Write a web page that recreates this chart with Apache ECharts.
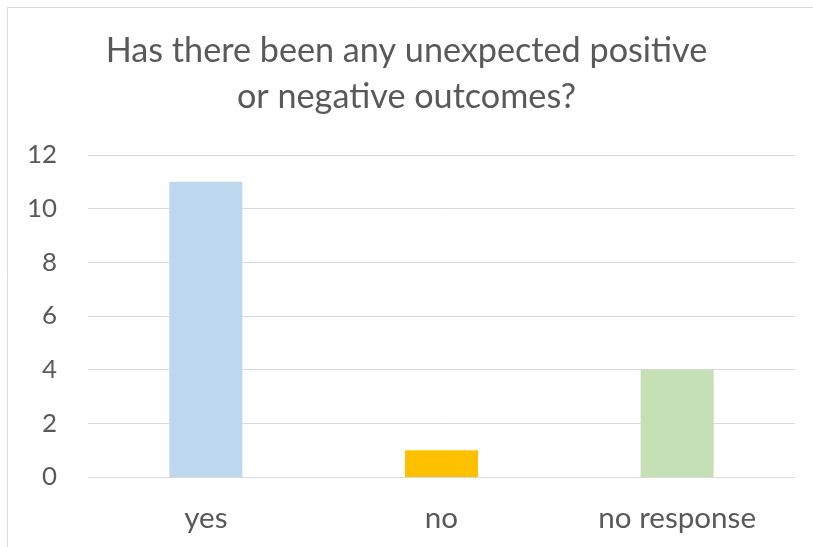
<!DOCTYPE html>
<html><head><meta charset="utf-8">
<script src="https://cdn.jsdelivr.net/npm/echarts@6/dist/echarts.min.js"></script>
<style>html,body{margin:0;padding:0;background:#fff}#c{width:813px;height:547px}</style>
</head><body><div id="c"></div>
<script>
const categories = ['yes', 'no', 'no response'];
const values = [11, 1, 4];
const barColors = ['#BDD7EE', '#FFC000', '#C5E0B4'];
const yTicks = { min: 0, max: 12, interval: 2 };
const titleLines = ['Has there been any unexpected positive', 'or negative outcomes?'];

// size fonts so text widths match the reference
const ctx = document.createElement('canvas').getContext('2d');
function sizeFor(text, target) {
  ctx.font = '100px Lato';
  return Math.round(100 * target / ctx.measureText(text).width * 10) / 10;
}
const titleSize = sizeFor(titleLines[0], 602);
const xLabSize = sizeFor('no response', 158);
const yLabSize = sizeFor('12', 30);

const chart = echarts.init(document.getElementById('c'));
chart.setOption({
  animation: false,
  graphic: [{ type: 'rect', shape: { x: 7.5, y: 7.5, width: 1000, height: 700 }, style: { fill: 'none', stroke: '#d9d9d9', lineWidth: 1 }, silent: true }],
  title: {
    text: titleLines.join('\n'), left: 'center', top: 23, padding: [5, 0, 5, 19],
    textStyle: { fontFamily: 'Lato', fontSize: titleSize, fontWeight: 'normal', color: '#595959', lineHeight: 46 }
  },
  grid: { left: 88, right: 18, top: 155, bottom: 70, containLabel: false },
  xAxis: {
    type: 'category', data: categories,
    axisLine: { lineStyle: { color: '#d9d9d9', width: 1 } },
    axisTick: { show: false },
    axisLabel: { fontFamily: 'Lato', fontSize: xLabSize, color: '#595959', margin: Math.round(527 - 477 - 0.82 * xLabSize) }
  },
  yAxis: {
    type: 'value', min: yTicks.min, max: yTicks.max, interval: yTicks.interval,
    axisLine: { show: false }, axisTick: { show: false },
    splitLine: { lineStyle: { color: '#d9d9d9', width: 1 } },
    axisLabel: { fontFamily: 'Lato', fontSize: yLabSize, color: '#595959', margin: 31 }
  },
  series: [{
    type: 'bar', barWidth: '31%',
    data: values.map((v, i) => ({ value: v, itemStyle: { color: barColors[i] } }))
  }]
});
</script></body></html>
